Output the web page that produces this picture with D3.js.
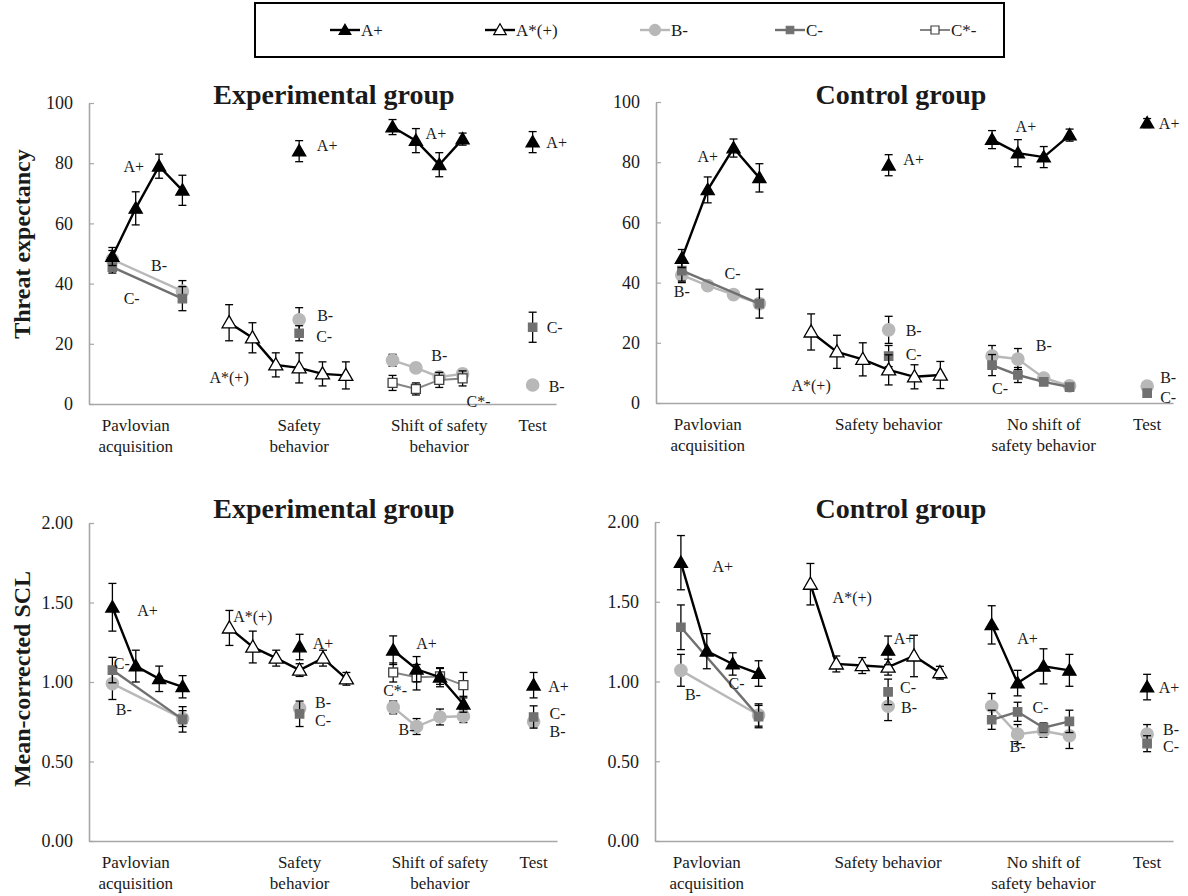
<!DOCTYPE html>
<html><head><meta charset="utf-8">
<script src="https://cdn.jsdelivr.net/npm/d3@7"></script>
<style>
body{margin:0;background:#fff}
svg{display:block}
text{font-family:"Liberation Serif","Times New Roman",serif;fill:#1a1a1a}
</style>
</head><body>
<svg id="chart" width="1188" height="896"></svg>
<script>
const _ = null;
// trial slots 0..18 ; phases are groups of slots connected by lines
const phases = [[0,3],[5,10],[12,15],[18,18]];
const seriesNames = ["A+","A*(+)","B-","C-","C*-"];

// ---------- Threat expectancy, Experimental group ----------
const teExpAplus  = [49,65,79,71,_, _,_,_,84,_,_, _, 92,87.5,79.5,88, _,_, 87];
const teExpAplusE = [3,5.5,4,5,_, _,_,_,3.5,_,_, _, 2.5,4,4,2, _,_, 3.5];
const teExpAstar  = [_,_,_,_,_, 27,22,13,12,10,9.5, _, _,_,_,_, _,_, _];
const teExpAstarE = [_,_,_,_,_, 6,5,4,5,4,4.5, _, _,_,_,_, _,_, _];
const teExpB      = [48,_,_,37.5,_, _,_,_,28,_,_, _, 14.5,12,9,10, _,_, 6.3];
const teExpBE     = [3,_,_,3.5,_, _,_,_,4,_,_, _, 2,1.5,1.5,1.5, _,_, 1];
const teExpC      = [45.5,_,_,35,_, _,_,_,23.5,_,_, _, _,_,_,_, _,_, 25.5];
const teExpCE     = [2,_,_,4,_, _,_,_,2.5,_,_, _, _,_,_,_, _,_, 5];
const teExpCstar  = [_,_,_,_,_, _,_,_,_,_,_, _, 7,5,8,8.5, _,_, _];
const teExpCstarE = [_,_,_,_,_, _,_,_,_,_,_, _, 2.5,2,2.5,2.5, _,_, _];

// ---------- Threat expectancy, Control group ----------
const teCtlAplus  = [48,70.8,84.7,74.8,_, _,_,_,79,_,_, _, 87.5,83,81.7,89, _,_, 93];
const teCtlAplusE = [3,4.3,3,4.7,_, _,_,_,3.5,_,_, _, 3,4.5,3.5,2, _,_, 1.5];
const teCtlAstar  = [_,_,_,_,_, 23.6,17,14.5,11,8.7,9.3, _, _,_,_,_, _,_, _];
const teCtlAstarE = [_,_,_,_,_, 6,5.5,5.5,5,4,4.5, _, _,_,_,_, _,_, _];
const teCtlB      = [42.5,39,36,33,_, _,_,_,24.3,_,_, _, 15.6,14.6,8.3,5.7, _,_, 5.6];
const teCtlBE     = [2.5,1,1,1,_, _,_,_,4.5,_,_, _, 3.5,3.5,1,1, _,_, 1];
const teCtlC      = [44,_,_,33,_, _,_,_,15.6,_,_, _, 12.6,9.3,7,5.3, _,_, 3.3];
const teCtlCE     = [3.5,_,_,4.8,_, _,_,_,3.5,_,_, _, 3.5,2.5,1,1, _,_, 1];

// ---------- Mean-corrected SCL, Experimental group ----------
const sclExpAplus  = [1.47,1.10,1.02,0.97,_, _,_,_,1.22,_,_, _, 1.20,1.08,1.03,0.86, _,_, 0.98];
const sclExpAplusE = [.15,.10,.08,.07,_, _,_,_,.08,_,_, _, .09,.08,.06,.05, _,_, .08];
const sclExpAstar  = [_,_,_,_,_, 1.34,1.22,1.15,1.075,1.15,1.02, _, _,_,_,_, _,_, _];
const sclExpAstarE = [_,_,_,_,_, .11,.10,.05,.04,.05,.04, _, _,_,_,_, _,_, _];
const sclExpB      = [0.99,_,_,0.77,_, _,_,_,0.835,_,_, _, 0.84,0.72,0.78,0.785, _,_, 0.75];
const sclExpBE     = [.10,_,_,.05,_, _,_,_,.03,_,_, _, .04,.05,.05,.04, _,_, .03];
const sclExpC      = [1.075,_,_,0.765,_, _,_,_,0.80,_,_, _, _,_,_,_, _,_, 0.78];
const sclExpCE     = [.08,_,_,.08,_, _,_,_,.08,_,_, _, _,_,_,_, _,_, .07];
const sclExpCstar  = [_,_,_,_,_, _,_,_,_,_,_, _, 1.06,1.03,1.035,0.98, _,_, _];
const sclExpCstarE = [_,_,_,_,_, _,_,_,_,_,_, _, .06,.08,.05,.08, _,_, _];

// ---------- Mean-corrected SCL, Control group ----------
const sclCtlAplus  = [1.745,1.19,1.11,1.05,_, _,_,_,1.195,_,_, _, 1.355,0.99,1.095,1.07, _,_, 0.965];
const sclCtlAplusE = [.17,.11,.07,.08,_, _,_,_,.09,_,_, _, .12,.08,.11,.10, _,_, .08];
const sclCtlAstar  = [_,_,_,_,_, 1.61,1.11,1.10,1.09,1.16,1.055, _, _,_,_,_, _,_, _];
const sclCtlAstarE = [_,_,_,_,_, .13,.05,.05,.05,.13,.04, _, _,_,_,_, _,_, _];
const sclCtlB      = [1.07,_,_,0.79,_, _,_,_,0.845,_,_, _, 0.845,0.67,0.69,0.66, _,_, 0.67];
const sclCtlBE     = [.10,_,_,.07,_, _,_,_,.09,_,_, _, .08,.06,.04,.08, _,_, .06];
const sclCtlC      = [1.34,_,_,0.78,_, _,_,_,0.935,_,_, _, 0.76,0.81,0.71,0.75, _,_, 0.61];
const sclCtlCE     = [.14,_,_,.07,_, _,_,_,.08,_,_, _, .06,.06,.03,.07, _,_, .05];

// axis ticks & labels
const yTicksTE  = [0,20,40,60,80,100];
const yTicksSCL = [0,0.5,1,1.5,2];
const phaseLabelsExp = [["Pavlovian","acquisition"],["Safety","behavior"],["Shift of safety","behavior"],["Test"]];
const phaseLabelsCtl = [["Pavlovian","acquisition"],["Safety behavior"],["No shift of","safety behavior"],["Test"]];
const phaseLabelSlots = [1, 8, 14, 18];

// in-plot series labels: [text, slot, value, dx, dy]
const labTeExp = [["A+",1,79,-2,0],["B-",2,46,0,0],["C-",1,35,-4,0],["A*(+)",5,9,0,0],
  ["A+",8,86,28,0],["B-",8,29.5,26,0],["C-",8,22.5,25,0],["A+",13,90,20,0],["B-",14,16,0,0],["C*-",15,1,16,0],
  ["A+",18,87,24,0],["C-",18,25.5,22,0],["B-",18,6,24,0]];
const labTeCtl = [["A+",1,82,0,0],["C-",2,43,-1,0],["B-",0,37,0,0],["A*(+)",5,6,0,0],
  ["A+",8,81,25,0],["B-",8,24,25,0],["C-",8,16,25,0],["A+",13,92,8,0],["B-",14,19,0,0],["C-",12,5,8,0],
  ["A+",18,93,22,0],["B-",18,8.5,21,0],["C-",18,2,21,0]];
const labSclExp = [["A+",1.5,1.45,0,0],["C-",1,1.12,-14,0],["B-",1,0.83,-12,0],["A*(+)",6,1.41,0,0],
  ["A+",9,1.24,0,0],["B-",9,0.87,0,0],["C-",9,0.76,0,0],["A+",13,1.24,10,0],["C*-",12,0.95,2,0],["B-",13,0.70,-10,0],
  ["A+",18,0.97,25,0],["C-",18,0.80,24,0],["B-",18,0.69,24,0]];
const labSclCtl = [["A+",1,1.72,16,0],["C-",3,0.99,-22,0],["B-",0,0.92,12,0],["A*(+)",7,1.53,-10,0],
  ["A+",9,1.27,-10,0],["C-",9,0.96,-6,0],["B-",9,0.84,-5,0],["A+",13,1.27,10,0],["C-",14,0.84,-3,0],["B-",13,0.59,0,0],
  ["A+",18,0.96,22,0],["B-",18,0.70,24,0],["C-",18,0.59,24,0]];

const svg = d3.select("#chart");
const AX = "#a6a6a6";
const styles = {
  "A+":    {line:"#000", lw:2.4, shape:d3.symbolTriangle, size:75, fill:"#000", stroke:"#000"},
  "A*(+)": {line:"#000", lw:2.4, shape:d3.symbolTriangle, size:85, fill:"#fff", stroke:"#000"},
  "B-":    {line:"#b8b8b8", lw:2.4, shape:d3.symbolCircle, size:120, fill:"#b8b8b8", stroke:"#b8b8b8"},
  "C-":    {line:"#707070", lw:2.4, shape:d3.symbolSquare, size:70, fill:"#707070", stroke:"#707070"},
  "C*-":   {line:"#858585", lw:2.0, shape:d3.symbolSquare, size:80, fill:"#fff", stroke:"#404040"}
};

function panel(cfg){
  const g = svg.append("g");
  const x = d3.scaleLinear().domain([-1,19]).range([cfg.x0, cfg.x1]);
  const y = d3.scaleLinear().domain(cfg.ydom).range([cfg.yb, cfg.yt]);
  // axes
  const yAxis = d3.axisLeft(y).tickValues(cfg.ticks).tickFormat(cfg.fmt).tickSizeInner(-5).tickSizeOuter(0).tickPadding(16);
  const ya = g.append("g").attr("transform",`translate(${cfg.x0},0)`).call(yAxis);
  ya.select(".domain").attr("stroke",AX).attr("stroke-width",1.6);
  ya.selectAll(".tick line").attr("stroke",AX).attr("stroke-width",1.2);
  ya.selectAll(".tick text").attr("font-size",18).attr("font-family","Liberation Serif").attr("fill","#1a1a1a");
  const xAxis = d3.axisBottom(x).tickValues([]).tickSizeOuter(0);
  const xa = g.append("g").attr("transform",`translate(0,${cfg.yb})`).call(xAxis);
  xa.select(".domain").attr("stroke",AX).attr("stroke-width",1.6);
  // phase labels
  cfg.plabels.forEach((lines,k)=>{
    lines.forEach((t,j)=>{
      g.append("text").attr("x", x(phaseLabelSlots[k])).attr("y", cfg.yb + 27 + j*21)
        .attr("text-anchor","middle").attr("font-size",17).text(t);
    });
  });
  // titles
  g.append("text").attr("x",cfg.tx).attr("y",cfg.ty).attr("text-anchor","middle")
    .attr("font-size",28).attr("font-weight","bold").attr("fill","#000").text(cfg.title);
  if(cfg.ytitle){
    g.append("text").attr("transform",`translate(30,${cfg.ytc}) rotate(-90)`)
      .attr("text-anchor","middle").attr("font-size",24).attr("font-weight","bold").attr("fill","#000").text(cfg.ytitle);
  }
  // series
  cfg.series.forEach(([name, vals, errs])=>{
    const st = styles[name];
    const pts = vals.map((v,i)=> v==null?null:{i, v, e: errs[i]||0}).filter(d=>d);
    phases.forEach(([a,b])=>{
      const seg = pts.filter(d=>d.i>=a && d.i<=b);
      if(seg.length>1){
        g.append("path").datum(seg).attr("fill","none").attr("stroke",st.line).attr("stroke-width",st.lw)
          .attr("d", d3.line().x(d=>x(d.i)).y(d=>y(d.v)));
      }
    });
    const eb = g.append("g").attr("stroke","#000").attr("stroke-width",1.3);
    pts.forEach(d=>{
      if(!d.e) return;
      const cx=x(d.i), y1=y(d.v+d.e), y2=y(d.v-d.e);
      eb.append("line").attr("x1",cx).attr("x2",cx).attr("y1",y1).attr("y2",y2);
      eb.append("line").attr("x1",cx-4).attr("x2",cx+4).attr("y1",y1).attr("y2",y1);
      eb.append("line").attr("x1",cx-4).attr("x2",cx+4).attr("y1",y2).attr("y2",y2);
    });
    g.selectAll(null).data(pts).enter().append("path")
      .attr("d", d3.symbol().type(st.shape).size(st.size))
      .attr("transform", d=>`translate(${x(d.i)},${y(d.v) + (st.shape===d3.symbolTriangle?1:0)})`)
      .attr("fill",st.fill).attr("stroke",st.stroke).attr("stroke-width",1.3);
  });
  // series labels
  cfg.labels.forEach(([t,s,v,dx,dy])=>{
    g.append("text").attr("x", x(s)+dx).attr("y", y(v)+dy).attr("dy","0.35em")
      .attr("text-anchor","middle").attr("font-size",16).text(t);
  });
}

const f0 = d3.format("d"), f2 = d3.format(".2f");
panel({x0:89,x1:556,yt:103,yb:404,ydom:[0,100],ticks:yTicksTE,fmt:f0,plabels:phaseLabelsExp,
  title:"Experimental group",tx:334,ty:104,ytitle:"Threat expectancy",ytc:244,labels:labTeExp,
  series:[["B-",teExpB,teExpBE],["C-",teExpC,teExpCE],["C*-",teExpCstar,teExpCstarE],["A*(+)",teExpAstar,teExpAstarE],["A+",teExpAplus,teExpAplusE]]});
panel({x0:656,x1:1173,yt:102,yb:403,ydom:[0,100],ticks:yTicksTE,fmt:f0,plabels:phaseLabelsCtl,
  title:"Control group",tx:901,ty:104,ytitle:null,labels:labTeCtl,
  series:[["B-",teCtlB,teCtlBE],["C-",teCtlC,teCtlCE],["A*(+)",teCtlAstar,teCtlAstarE],["A+",teCtlAplus,teCtlAplusE]]});
panel({x0:89,x1:557,yt:523,yb:841,ydom:[0,2],ticks:yTicksSCL,fmt:f2,plabels:phaseLabelsExp,
  title:"Experimental group",tx:334,ty:518,ytitle:"Mean-corrected SCL",ytc:679,labels:labSclExp,
  series:[["B-",sclExpB,sclExpBE],["C-",sclExpC,sclExpCE],["C*-",sclExpCstar,sclExpCstarE],["A*(+)",sclExpAstar,sclExpAstarE],["A+",sclExpAplus,sclExpAplusE]]});
panel({x0:655,x1:1173,yt:522,yb:841,ydom:[0,2],ticks:yTicksSCL,fmt:f2,plabels:phaseLabelsCtl,
  title:"Control group",tx:901,ty:518,ytitle:null,labels:labSclCtl,
  series:[["B-",sclCtlB,sclCtlBE],["C-",sclCtlC,sclCtlCE],["A*(+)",sclCtlAstar,sclCtlAstarE],["A+",sclCtlAplus,sclCtlAplusE]]});

// legend
const lg = svg.append("g");
lg.append("rect").attr("x",255).attr("y",3).attr("width",749).attr("height",54)
  .attr("fill","#fff").attr("stroke","#000").attr("stroke-width",2);
const legX = d3.scaleOrdinal().domain(seriesNames).range([330,485,640,775,920]);
seriesNames.forEach(n=>{
  const st = styles[n], x0 = legX(n);
  lg.append("line").attr("x1",x0).attr("x2",x0+30).attr("y1",30).attr("y2",30).attr("stroke",st.line).attr("stroke-width",st.lw);
  lg.append("path").attr("d",d3.symbol().type(st.shape).size(st.size*0.8)).attr("transform",`translate(${x0+15},${30+(st.shape===d3.symbolTriangle?1:0)})`)
    .attr("fill",st.fill).attr("stroke",st.stroke).attr("stroke-width",1.2);
  lg.append("text").attr("x",x0+31).attr("y",30).attr("dy","0.35em").attr("font-size",17).text(n);
});
</script>
</body></html>
